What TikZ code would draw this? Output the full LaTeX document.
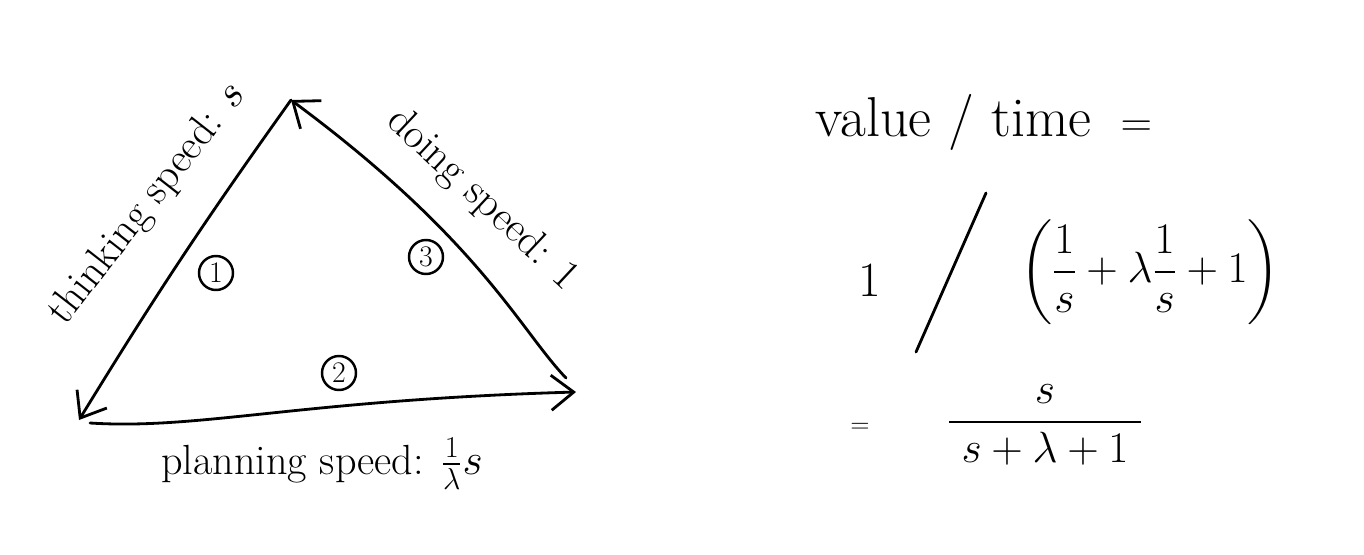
\documentclass[tikz,border=0pt]{standalone}
\usepackage{amsmath}
\usetikzlibrary{arrows.meta}
\begin{document}
\begin{tikzpicture}[x=0.02cm,y=-0.02cm,
  pen/.style={line width=1.6pt, line cap=round, line join=round},
  arr/.style={pen, -{Straight Barb[length=4.5mm,width=7mm,line width=1.6pt]}},
  lab/.style={font=\fontsize{24}{28}\selectfont, inner sep=0pt},
  num/.style={draw, circle, line width=1.4pt, minimum size=0.68cm, inner sep=0pt, font=\fontsize{17}{19}\selectfont},
  big/.style={font=\fontsize{32}{38}\selectfont, inner sep=0pt}]
\useasboundingbox (0,0) rectangle (1364,554);
% triangle corners
\coordinate (top) at (291,100);
\coordinate (bl) at (79,420);
\coordinate (bls) at (90,423);
\coordinate (br) at (576,392);
\coordinate (brs) at (566,378);
% edges
\draw[arr] (top) to[bend right=2] (bl);
\draw[arr] (bls) .. controls (200,430) and (300,400) .. (br);
\draw[arr] (brs) .. controls (520,330) and (480,240) .. (top);
% edge labels
\node[lab, rotate=52] (think) at (148,204) {thinking speed: $s$};
\node[lab, rotate=-43] (doing) at (482,200) {doing speed: 1};
\node[lab] (plan) at (322,464) {planning speed: $\frac{1}{\lambda}s$};
% circled numbers
\node[num] (n1) at (216,273) {1};
\node[num] (n2) at (339,373) {2};
\node[num] (n3) at (426,257) {3};
% formula
\node[big] (vt) at (990,122) {value / time ${}={}$};
\node[font=\fontsize{28}{32}\selectfont, inner sep=0pt] (one) at (870,280) {1};
\coordinate (s1) at (916,352);
\coordinate (s2) at (986,193);
\draw[pen] (s1) -- (s2);
\node[big] (expr) at (1150,272) {$\displaystyle\left(\frac{1}{s}+\lambda\frac{1}{s}+1\right)$};
\node[font=\fontsize{14}{16}\selectfont] (eq) at (860,428) {$=$};
\node[big] (res) at (1045,425) {$\displaystyle\frac{\;s\;}{\;s+\lambda+1\;}$};
\end{tikzpicture}
\end{document}
